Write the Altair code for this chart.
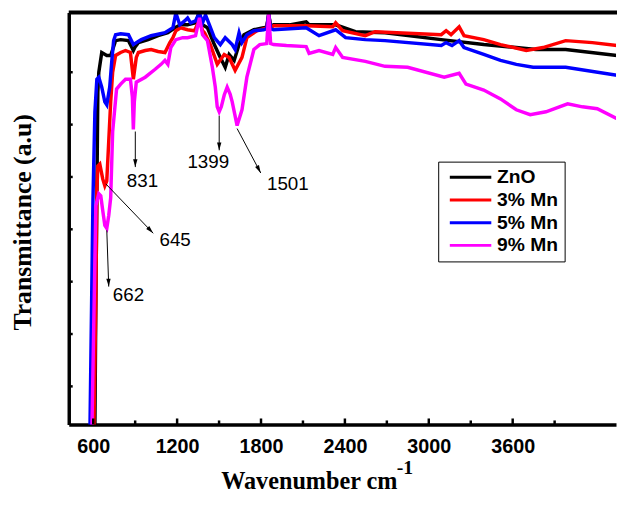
import math
import altair as alt
import pandas as pd

# ---------------- data ----------------
series_names = ["ZnO", "3% Mn", "5% Mn", "9% Mn"]
series_colors = ["#000000", "#ff0000", "#0000ff", "#ff00ff"]

zno_wn = [612, 619, 633, 640, 661, 697, 725, 760, 796, 852, 873, 887, 901, 923, 993, 1064, 1134, 1184,
          1226, 1275, 1332, 1346, 1360, 1417, 1466, 1509, 1544, 1572, 1608, 1643, 1678, 1749, 1819, 1841,
          1855, 1869, 1890, 2003, 2123, 2144, 2334, 2475, 2687, 3089, 3393, 3626, 3767, 3979, 4346]
zno_t = [0, 128, 338, 358, 378, 375, 375, 390, 391, 390, 384, 380, 384, 388, 391, 395, 398, 403,
         406, 406, 408, 414, 408, 403, 386, 373, 363, 376, 370, 386, 396, 401, 403, 404,
         417, 404, 406, 406, 409, 406, 406, 399, 398, 391, 386, 383, 381, 381, 375]

mn3_wn = [605, 619, 626, 633, 647, 668, 683, 697, 711, 725, 739, 760, 796, 831, 866, 887, 908, 923, 972,
          1014, 1064, 1113, 1148, 1170, 1191, 1226, 1275, 1325, 1360, 1382, 1396, 1438, 1487, 1537, 1572,
          1615, 1664, 1699, 1770, 1841, 1855, 1869, 1890, 2123, 2313, 2334, 2384, 2546, 2616, 3089, 3124,
          3159, 3217, 3252, 3393, 3513, 3697, 3817, 3979, 4170, 4346]
mn3_t = [0, 128, 238, 263, 265, 250, 243, 248, 288, 328, 358, 375, 378, 380, 378, 351, 373, 378, 380,
         381, 379, 378, 388, 393, 400, 403, 401, 400, 411, 400, 398, 386, 366, 376, 373,
         360, 373, 393, 400, 403, 416, 403, 405, 405, 404, 408, 400, 395, 399, 396, 400,
         396, 404, 395, 391, 386, 380, 383, 390, 388, 385]

mn5_wn = [577, 598, 612, 626, 640, 661, 683, 697, 718, 732, 746, 760, 796, 852, 873, 887, 908, 944, 1014,
          1113, 1170, 1191, 1219, 1254, 1275, 1297, 1332, 1360, 1382, 1403, 1431, 1466, 1509, 1544, 1594,
          1615, 1643, 1664, 1699, 1749, 1819, 1841, 1855, 1869, 1890, 2123, 2215, 2334, 2405, 2546, 2687,
          3089, 3124, 3166, 3217, 3252, 3393, 3513, 3626, 3746, 3979, 4346]
mn5_t = [0, 228, 318, 351, 353, 343, 328, 325, 343, 368, 390, 396, 397, 396, 390, 386, 388, 391, 395,
         398, 403, 418, 406, 410, 413, 408, 410, 418, 408, 416, 406, 393, 386, 393, 386,
         381, 398, 388, 396, 400, 401, 402, 417, 402, 401, 403, 395, 401, 393, 391, 390,
         385, 388, 385, 390, 383, 376, 370, 366, 363, 363, 355]

mn9_wn = [591, 612, 619, 640, 654, 668, 683, 697, 711, 725, 739, 767, 796, 831, 866, 880, 887, 894, 908,
          972, 1043, 1085, 1113, 1134, 1155, 1191, 1240, 1275, 1332, 1360, 1382, 1417, 1452, 1473, 1487,
          1501, 1516, 1537, 1558, 1579, 1594, 1629, 1664, 1699, 1749, 1791, 1841, 1855, 1869, 1890, 1982,
          2123, 2144, 2215, 2313, 2334, 2384, 2546, 2687, 2849, 3110, 3217, 3266, 3393, 3513, 3626, 3725,
          3838, 3993, 4099, 4205, 4346]
mn9_t = [0, 168, 223, 235, 233, 218, 203, 200, 213, 231, 298, 341, 346, 351, 351, 333, 300, 328, 348,
         353, 361, 366, 370, 366, 383, 391, 393, 393, 395, 413, 396, 390, 363, 343, 323,
         318, 323, 335, 343, 336, 328, 304, 320, 353, 381, 386, 387, 417, 387, 386, 385,
         384, 377, 380, 376, 383, 373, 369, 364, 363, 353, 357, 346, 340, 331, 320, 315,
         318, 326, 323, 321, 311]

x_major = [600, 1200, 1800, 2400, 3000, 3600]
x_minor = [900, 1500, 2100, 2700, 3300, 3900]
y_ticks = [40, 93, 146, 199, 252, 305, 358]

ann_label = ["831", "1399", "1501", "645", "662"]
ann_x0 = [901, 1501, 1629, 690, 697]
ann_y0 = [298, 314, 301, 245, 198]
ann_x1 = [901, 1501, 1798, 1029, 711]
ann_y1 = [262, 279, 256, 195, 141]
ann_tx = [952, 1423, 1992, 1186, 852]
ann_ty = [248, 267, 245, 188, 132]

# ---------------- geometry ----------------
W, H = 554, 417
X_DOMAIN = [425, 4339]
Y_DOMAIN = [1.5, 418.5]
xs = alt.Scale(domain=X_DOMAIN, nice=False, zero=False)
ys = alt.Scale(domain=Y_DOMAIN, nice=False, zero=False)

x_axis = alt.Axis(
    values=x_major, format="d", ticks=False, grid=False,
    labelFont="Liberation Sans", labelFontWeight="bold", labelFontSize=20,
    labelColor="black", labelPadding=12, labelFlush=False,
    domainColor="black", domainWidth=3.5,
    title="Wavenumber cm", titleFont="Liberation Serif", titleFontSize=24.5,
    titleFontWeight="bold", titleColor="black", titleX=243, titleY=65,
    titleBaseline="alphabetic", titleAlign="center")
y_axis = alt.Axis(
    labels=False, ticks=False, grid=False, domainColor="black", domainWidth=3.5,
    title="Transmittance (a.u)", titleFont="Liberation Serif", titleFontSize=26,
    titleFontWeight="bold", titleColor="black", titleX=-39, titleY=212,
    titleAngle=270, titleBaseline="alphabetic", titleAlign="center")

rows = []
for name, wn, tt in zip(series_names, [zno_wn, mn3_wn, mn5_wn, mn9_wn], [zno_t, mn3_t, mn5_t, mn9_t]):
    for i, (a, b) in enumerate(zip(wn, tt)):
        rows.append({"series": name, "wn": a, "T": b, "idx": i})
df = pd.DataFrame(rows)

lines = alt.Chart(df).mark_line(strokeWidth=3.5, clip=True).encode(
    x=alt.X("wn:Q", scale=xs, axis=x_axis),
    y=alt.Y("T:Q", scale=ys, axis=y_axis),
    color=alt.Color("series:N", scale=alt.Scale(domain=series_names, range=series_colors),
                    legend=alt.Legend(title=None, orient="none", legendX=374, legendY=151,
                                      direction="vertical", symbolType="M-4.2,0L4.2,0", symbolSize=100,
                                      symbolStrokeWidth=3, symbolFillColor="transparent",
                                      symbolOffset=17, labelFont="Liberation Sans",
                                      labelFontSize=19.5, labelFontWeight="bold", labelColor="black",
                                      labelExpr="datum.label + '    '",
                                      strokeColor="black", fillColor="white", padding=6,
                                      rowPadding=2, labelOffset=17)),
    detail="series:N",
    order="idx:Q",
)

maj = alt.Chart(pd.DataFrame({"wn": x_major})).mark_rule(color="black", strokeWidth=2.5).encode(
    x=alt.X("wn:Q", scale=xs, axis=x_axis), y=alt.value(H), y2=alt.value(H - 6))
mnr = alt.Chart(pd.DataFrame({"wn": x_minor})).mark_rule(color="black", strokeWidth=2.5).encode(
    x=alt.X("wn:Q", scale=xs, axis=x_axis), y=alt.value(H), y2=alt.value(H - 4))
ytk = alt.Chart(pd.DataFrame({"T": y_ticks})).mark_rule(color="black", strokeWidth=2.5).encode(
    y=alt.Y("T:Q", scale=ys, axis=y_axis), x=alt.value(0), x2=alt.value(4))
top = alt.Chart(pd.DataFrame({"a": [0]})).mark_rule(color="black", strokeWidth=4).encode(
    x=alt.value(0), x2=alt.value(W + 2), y=alt.value(0))

# annotations
px_per_x = W / (X_DOMAIN[1] - X_DOMAIN[0])
px_per_y = H / (Y_DOMAIN[1] - Y_DOMAIN[0])
angles = []
for a0, b0, a1, b1 in zip(ann_x0, ann_y0, ann_x1, ann_y1):
    dx = (a1 - a0) * px_per_x
    dy = -(b1 - b0) * px_per_y
    angles.append(math.degrees(math.atan2(dx, -dy)) % 360)
ann = pd.DataFrame({"label": ann_label, "x0": ann_x0, "y0": ann_y0, "x1": ann_x1, "y1": ann_y1,
                    "tx": ann_tx, "ty": ann_ty, "ang": angles})
arrow_lines = alt.Chart(ann).mark_rule(color="black", strokeWidth=1).encode(
    x=alt.X("x0:Q", scale=xs, axis=x_axis), y=alt.Y("y0:Q", scale=ys, axis=y_axis),
    x2="x1:Q", y2="y1:Q")
arrow_heads = alt.Chart(ann).mark_point(
    shape="M0,0L0.55,2L-0.55,2Z", filled=True, color="black", opacity=1, size=64, strokeWidth=0).encode(
    x=alt.X("x1:Q", scale=xs, axis=x_axis), y=alt.Y("y1:Q", scale=ys, axis=y_axis),
    angle=alt.Angle("ang:Q", scale=None))
ann_text = alt.Chart(ann).mark_text(font="Liberation Sans", fontSize=19, color="black",
                                    align="center", baseline="middle").encode(
    x=alt.X("tx:Q", scale=xs, axis=x_axis), y=alt.Y("ty:Q", scale=ys, axis=y_axis), text="label:N")

sup = alt.Chart(pd.DataFrame({"s": ["-1"]})).mark_text(
    font="Liberation Serif", fontSize=20, fontWeight="bold", color="black",
    align="left", baseline="alphabetic").encode(
    text="s:N", x=alt.value(332), y=alt.value(467))

chart = alt.layer(lines, maj, mnr, ytk, top, arrow_lines, arrow_heads, ann_text, sup).properties(
    width=W, height=H,
    autosize=alt.AutoSizeParams(type="none"),
    padding={"left": 61.5, "top": 1.5, "right": 1, "bottom": 75},
).configure_view(stroke=None)

chart.save("out.html", embed_options={"renderer": "svg", "actions": False})
